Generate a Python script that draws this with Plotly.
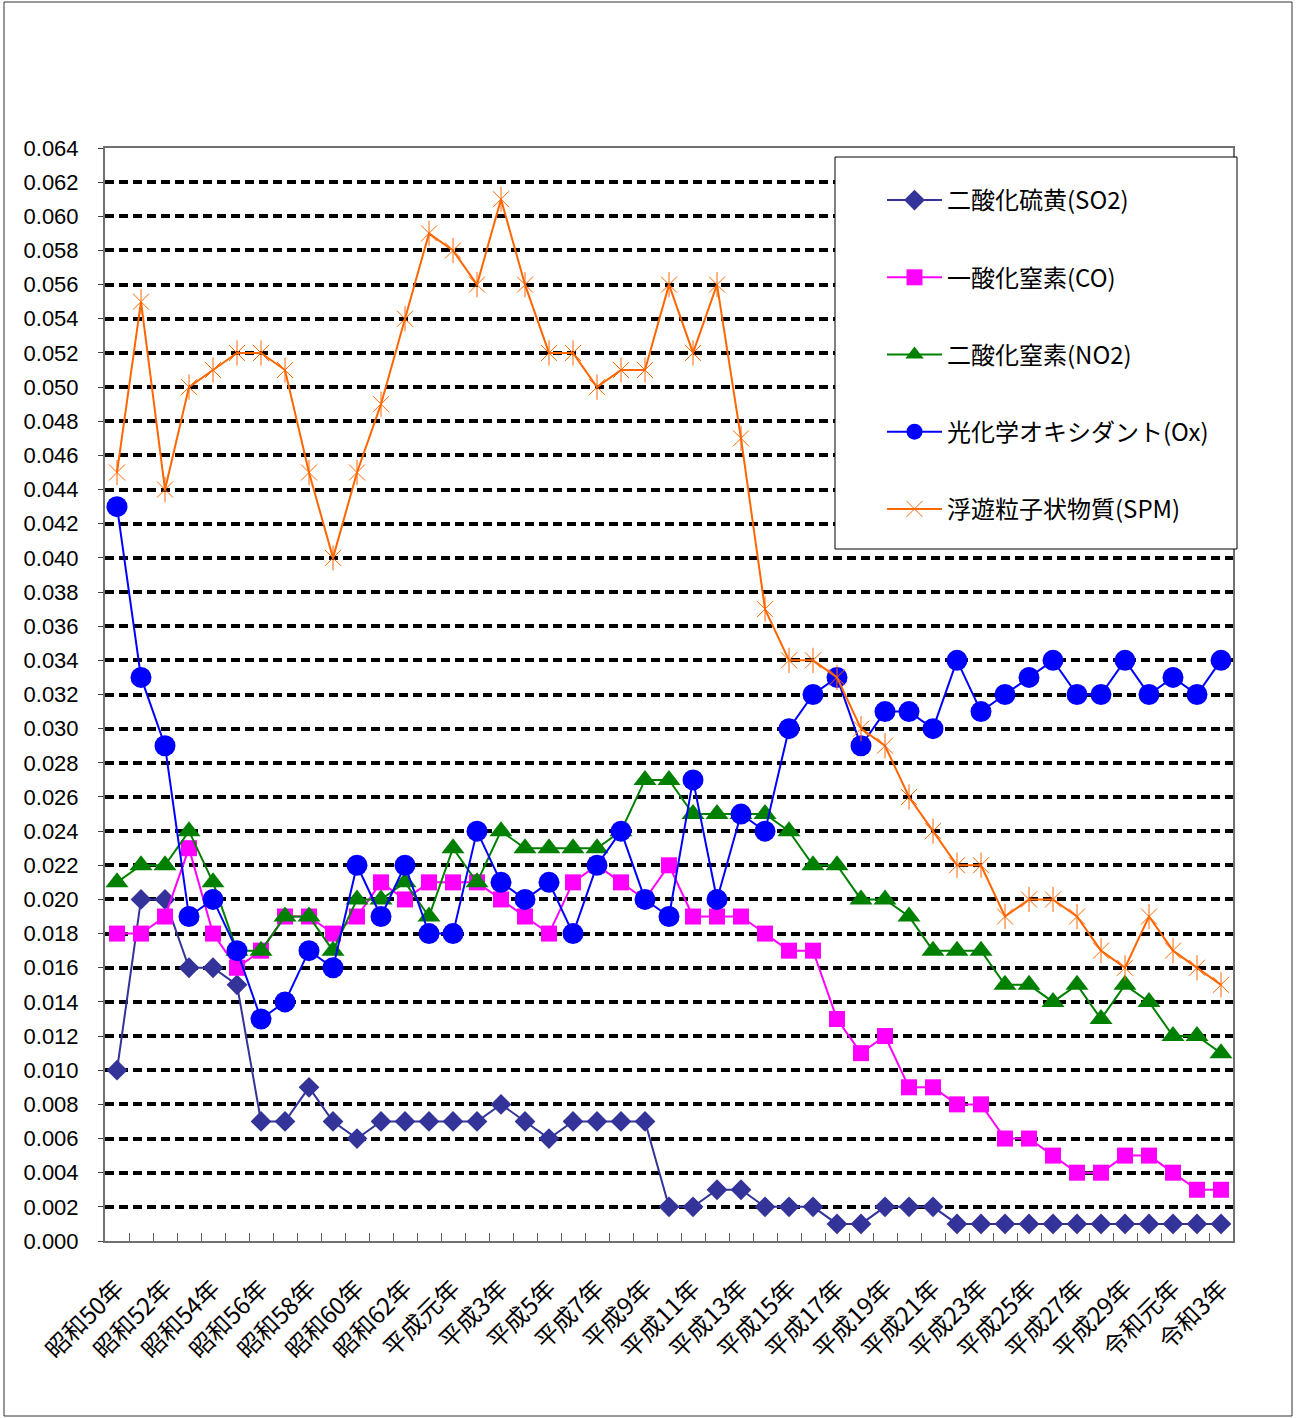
import plotly.graph_objects as go

categories = ([f"昭和{n}年" for n in range(50, 64)] + ["平成元年"] +
              [f"平成{n}年" for n in range(2, 31)] + ["令和元年", "令和2年", "令和3年"])
tick_labels = [c if i % 2 == 0 else "" for i, c in enumerate(categories)]

so2 = [0.010, 0.020, 0.020, 0.016, 0.016, 0.015, 0.007, 0.007, 0.009, 0.007,
       0.006, 0.007, 0.007, 0.007, 0.007, 0.007, 0.008, 0.007, 0.006, 0.007,
       0.007, 0.007, 0.007, 0.002, 0.002, 0.003, 0.003, 0.002, 0.002, 0.002,
       0.001, 0.001, 0.002, 0.002, 0.002, 0.001, 0.001, 0.001, 0.001, 0.001,
       0.001, 0.001, 0.001, 0.001, 0.001, 0.001, 0.001]
co = [0.018, 0.018, 0.019, 0.023, 0.018, 0.016, 0.017, 0.019, 0.019, 0.018,
      0.019, 0.021, 0.020, 0.021, 0.021, 0.021, 0.020, 0.019, 0.018, 0.021,
      0.022, 0.021, 0.020, 0.022, 0.019, 0.019, 0.019, 0.018, 0.017, 0.017,
      0.013, 0.011, 0.012, 0.009, 0.009, 0.008, 0.008, 0.006, 0.006, 0.005,
      0.004, 0.004, 0.005, 0.005, 0.004, 0.003, 0.003]
no2 = [0.021, 0.022, 0.022, 0.024, 0.021, 0.017, 0.017, 0.019, 0.019, 0.017,
       0.020, 0.020, 0.021, 0.019, 0.023, 0.021, 0.024, 0.023, 0.023, 0.023,
       0.023, 0.024, 0.027, 0.027, 0.025, 0.025, 0.025, 0.025, 0.024, 0.022,
       0.022, 0.020, 0.020, 0.019, 0.017, 0.017, 0.017, 0.015, 0.015, 0.014,
       0.015, 0.013, 0.015, 0.014, 0.012, 0.012, 0.011]
ox = [0.043, 0.033, 0.029, 0.019, 0.020, 0.017, 0.013, 0.014, 0.017, 0.016,
      0.022, 0.019, 0.022, 0.018, 0.018, 0.024, 0.021, 0.020, 0.021, 0.018,
      0.022, 0.024, 0.020, 0.019, 0.027, 0.020, 0.025, 0.024, 0.030, 0.032,
      0.033, 0.029, 0.031, 0.031, 0.030, 0.034, 0.031, 0.032, 0.033, 0.034,
      0.032, 0.032, 0.034, 0.032, 0.033, 0.032, 0.034]
spm = [0.045, 0.055, 0.044, 0.050, 0.051, 0.052, 0.052, 0.051, 0.045, 0.040,
       0.045, 0.049, 0.054, 0.059, 0.058, 0.056, 0.061, 0.056, 0.052, 0.052,
       0.050, 0.051, 0.051, 0.056, 0.052, 0.056, 0.047, 0.037, 0.034, 0.034,
       0.033, 0.030, 0.029, 0.026, 0.024, 0.022, 0.022, 0.019, 0.020, 0.020,
       0.019, 0.017, 0.016, 0.019, 0.017, 0.016, 0.015]

names = ["二酸化硫黄(SO2)", "一酸化窒素(CO)", "二酸化窒素(NO2)", "光化学オキシダント(Ox)", "浮遊粒子状物質(SPM)"]

fig = go.Figure()
fig.add_trace(go.Scatter(x=categories, y=so2, name=names[0], mode="lines+markers", legendgroup="g1",
                         line=dict(color="#333399", width=2),
                         marker=dict(symbol="diamond", size=16, color="#333399")))
fig.add_trace(go.Scatter(x=categories, y=co, name=names[1], mode="lines+markers", legendgroup="g2",
                         line=dict(color="#FF00FF", width=2),
                         marker=dict(symbol="square", size=16, color="#FF00FF")))
fig.add_trace(go.Scatter(x=categories, y=no2, name=names[2], mode="lines+markers", legendgroup="g3",
                         line=dict(color="#008000", width=2),
                         marker=dict(symbol="triangle-up", size=20, color="#008000")))
fig.add_trace(go.Scatter(x=categories, y=ox, name=names[3], mode="lines+markers", legendgroup="g4",
                         line=dict(color="#0000FF", width=2),
                         marker=dict(symbol="circle", size=21, color="#0000FF")))
fig.add_trace(go.Scatter(x=categories, y=spm, name=names[4], mode="lines+markers", legendgroup="g5",
                         line=dict(color="#FF6600", width=2),
                         marker=dict(symbol="x-thin-open", size=16, color="#FF6600",
                                     line=dict(color="#FF6600", width=1))))
fig.add_trace(go.Scatter(x=categories, y=spm, mode="markers", legendgroup="g5", showlegend=False,
                         marker=dict(symbol="line-ns-open", size=18, color="#FF6600",
                                     line=dict(color="#FF6600", width=1))))

L, R, T, B = 105, 1233, 148, 1241
W, H = 1301, 1418
def px(xp):
    return (xp - L) / (R - L)
def py(yp):
    return (B - yp) / (B - T)

fig.update_layout(
    width=W, height=H,
    margin=dict(l=L, r=W - R, t=T, b=H - B, pad=0),
    paper_bgcolor="white", plot_bgcolor="white",
    showlegend=True,
    legend=dict(x=px(882), y=py(178), xanchor="left", yanchor="top",
                bgcolor="rgba(0,0,0,0)", borderwidth=0,
                font=dict(family="Noto Sans CJK JP", size=24, color="black"),
                tracegroupgap=43, itemwidth=55),
    shapes=[
        dict(type="rect", xref="paper", yref="paper", x0=px(835), x1=px(1237), y0=py(549), y1=py(157),
             line=dict(color="black", width=1), fillcolor="white", layer="above"),
        dict(type="rect", xref="paper", yref="paper", x0=px(4), x1=px(1292), y0=py(1416), y1=py(2),
             line=dict(color="#333333", width=1), fillcolor="rgba(0,0,0,0)", layer="below"),
    ],
)
fig.update_yaxes(range=[0, 0.064], dtick=0.002, tick0=0, tickformat=".3f",
                 showgrid=True, gridcolor="black", griddash="9px,5px", gridwidth=4,
                 zeroline=False, showline=True, linecolor="#707070", linewidth=2, mirror=True,
                 ticks="outside", ticklen=5, tickcolor="#404040",
                 tickfont=dict(family="Liberation Sans", size=22, color="black"),
                 ticklabelstandoff=15)
fig.update_xaxes(type="category", range=[-0.5, len(categories) - 0.5],
                 tickmode="array", tickvals=categories, ticktext=tick_labels,
                 tickson="boundaries", ticks="inside", ticklen=8, tickcolor="#606060",
                 tickangle=-45, showgrid=False, zeroline=False,
                 showline=True, linecolor="#707070", linewidth=2, mirror=True,
                 tickfont=dict(family="Noto Sans CJK JP", size=24, color="black"),
                 ticklabelstandoff=22)

fig.write_html("out.html", config={"displayModeBar": False},
               post_script="document.body.style.margin='0';")
